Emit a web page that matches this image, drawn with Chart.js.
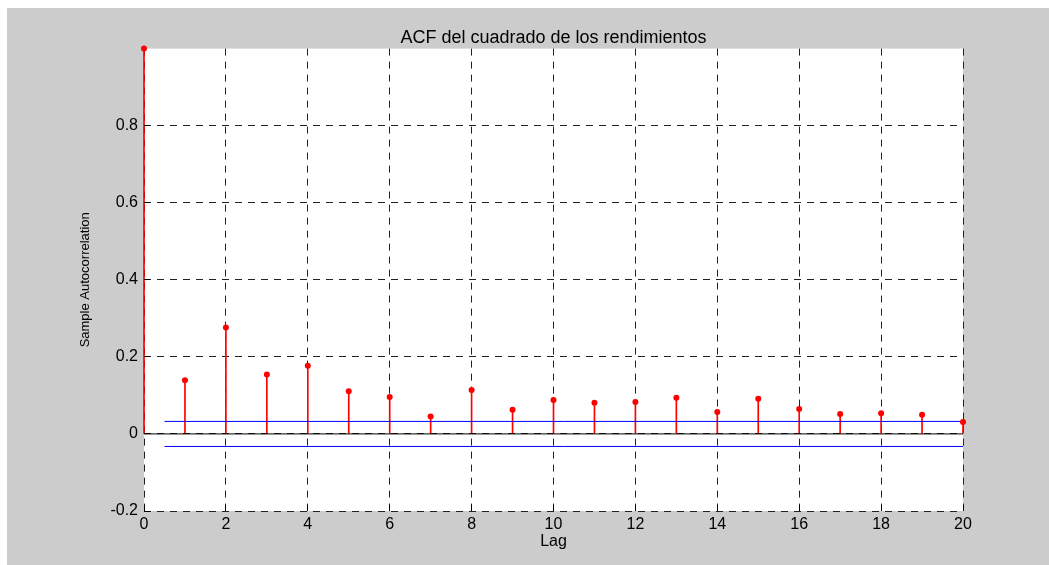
<!DOCTYPE html>
<html>
<head>
<meta charset="utf-8">
<title>ACF del cuadrado de los rendimientos</title>
<script src="https://cdn.jsdelivr.net/npm/chart.js@4.4.1/dist/chart.umd.min.js"></script>
<style>
  html, body { margin: 0; padding: 0; background: #fff; }
  #wrap { position: relative; width: 1049px; height: 565px; overflow: hidden; }
  #frame { position: absolute; left: 7px; top: 8px; right: 0; bottom: 0; background: #cccccc; }
  #acf { position: absolute; left: 0; top: 0; }
</style>
</head>
<body>
<div id="wrap">
  <div id="frame"></div>
  <canvas id="acf" width="1049" height="565"></canvas>
</div>
<script>
// sample autocorrelation of squared returns, lags 0..20
const lags = [0, 1, 2, 3, 4, 5, 6, 7, 8, 9, 10, 11, 12, 13, 14, 15, 16, 17, 18, 19, 20];
const acf = [1.000, 0.139, 0.276, 0.154, 0.177, 0.111, 0.096, 0.045, 0.114, 0.063, 0.088,
             0.081, 0.083, 0.094, 0.057, 0.091, 0.065, 0.052, 0.054, 0.050, 0.031];
// approximate 95% confidence bounds
const bound = 0.0325;
const boundStart = 0.5;
const xTicks = [0, 2, 4, 6, 8, 10, 12, 14, 16, 18, 20];
const yTicks = [-0.2, 0, 0.2, 0.4, 0.6, 0.8];

const stems = lags.map((l, i) => ({ x: l, y: acf[i] }));
const lastLag = lags[lags.length - 1];

const plotBg = {
  id: 'plotBg',
  beforeDraw(chart) {
    const { ctx, chartArea: a } = chart;
    ctx.save();
    ctx.fillStyle = '#ffffff';
    ctx.fillRect(a.left, a.top, a.width, a.height);
    ctx.restore();
  }
};

// matlab style ticks pointing into the axes
const inwardTicks = {
  id: 'inwardTicks',
  afterDatasetsDraw(chart) {
    const { ctx, chartArea: a, scales: { x, y } } = chart;
    ctx.save();
    ctx.strokeStyle = '#000';
    ctx.lineWidth = 1;
    ctx.beginPath();
    xTicks.forEach(v => {
      const px = Math.round(x.getPixelForValue(v) - 0.5) + 0.5;
      ctx.moveTo(px, a.bottom);
      ctx.lineTo(px, a.bottom - 6);
    });
    yTicks.forEach(v => {
      const py = Math.round(y.getPixelForValue(v) - 0.5) + 0.5;
      ctx.moveTo(a.left, py);
      ctx.lineTo(a.left + 6, py);
    });
    ctx.stroke();
    ctx.restore();
  }
};

const font = size => ({ family: "'Liberation Sans', Arial, sans-serif", size: size, weight: 'normal' });

new Chart(document.getElementById('acf'), {
  type: 'bar',
  data: {
    datasets: [
      {
        type: 'scatter',
        data: stems,
        backgroundColor: '#ff0000',
        borderWidth: 0,
        pointRadius: 3,
        clip: false,
        order: 0
      },
      {
        type: 'line',
        data: [{ x: boundStart, y: bound }, { x: lastLag, y: bound }],
        borderColor: '#0000ff',
        borderWidth: 1,
        pointRadius: 0,
        clip: false,
        order: 1
      },
      {
        type: 'line',
        data: [{ x: boundStart, y: -bound }, { x: lastLag, y: -bound }],
        borderColor: '#0000ff',
        borderWidth: 1,
        pointRadius: 0,
        clip: false,
        order: 2
      },
      {
        type: 'line',
        data: [{ x: 0, y: 0 }, { x: lastLag, y: 0 }],
        borderColor: '#000000',
        borderWidth: 1,
        pointRadius: 0,
        clip: false,
        order: 3
      },
      {
        type: 'bar',
        data: stems,
        backgroundColor: '#ff0000',
        borderWidth: 0,
        barThickness: 1,
        clip: false,
        order: 4
      }
    ]
  },
  options: {
    responsive: false,
    animation: false,
    devicePixelRatio: 1,
    layout: { padding: { left: 74, right: 86, top: 8, bottom: 10 } },
    plugins: {
      legend: { display: false },
      tooltip: { enabled: false },
      title: {
        display: true,
        text: 'ACF del cuadrado de los rendimientos',
        fullSize: false,
        color: '#000',
        font: font(18),
        padding: { top: 19, bottom: 0 }
      }
    },
    scales: {
      x: {
        type: 'linear',
        min: 0,
        max: 20,
        offset: false,
        afterFit: s => { s.height = 44; },
        afterBuildTicks: s => { s.ticks = xTicks.map(v => ({ value: v })); },
        ticks: {
          autoSkip: false,
          maxRotation: 0,
          padding: 4,
          color: '#000',
          font: font(16)
        },
        grid: { offset: false, color: '#222', lineWidth: 1, drawTicks: false },
        border: { display: false, dash: [7, 6] },
        title: {
          display: true,
          text: 'Lag',
          color: '#000',
          font: font(16),
          padding: { top: 0, bottom: 4 }
        }
      },
      y: {
        min: -0.2,
        max: 1,
        afterFit: s => { s.width = 70; },
        afterBuildTicks: s => { s.ticks = yTicks.map(v => ({ value: v })); },
        ticks: {
          autoSkip: false,
          padding: 6,
          color: '#000',
          font: font(16),
          callback: v => String(Math.round(v * 10) / 10)
        },
        grid: { color: '#222', lineWidth: 1, drawTicks: false },
        border: { display: false, dash: [7, 6] },
        title: {
          display: true,
          text: 'Sample Autocorrelation',
          color: '#000',
          font: font(13)
        }
      }
    }
  },
  plugins: [plotBg, inwardTicks]
});
</script>
</body>
</html>
